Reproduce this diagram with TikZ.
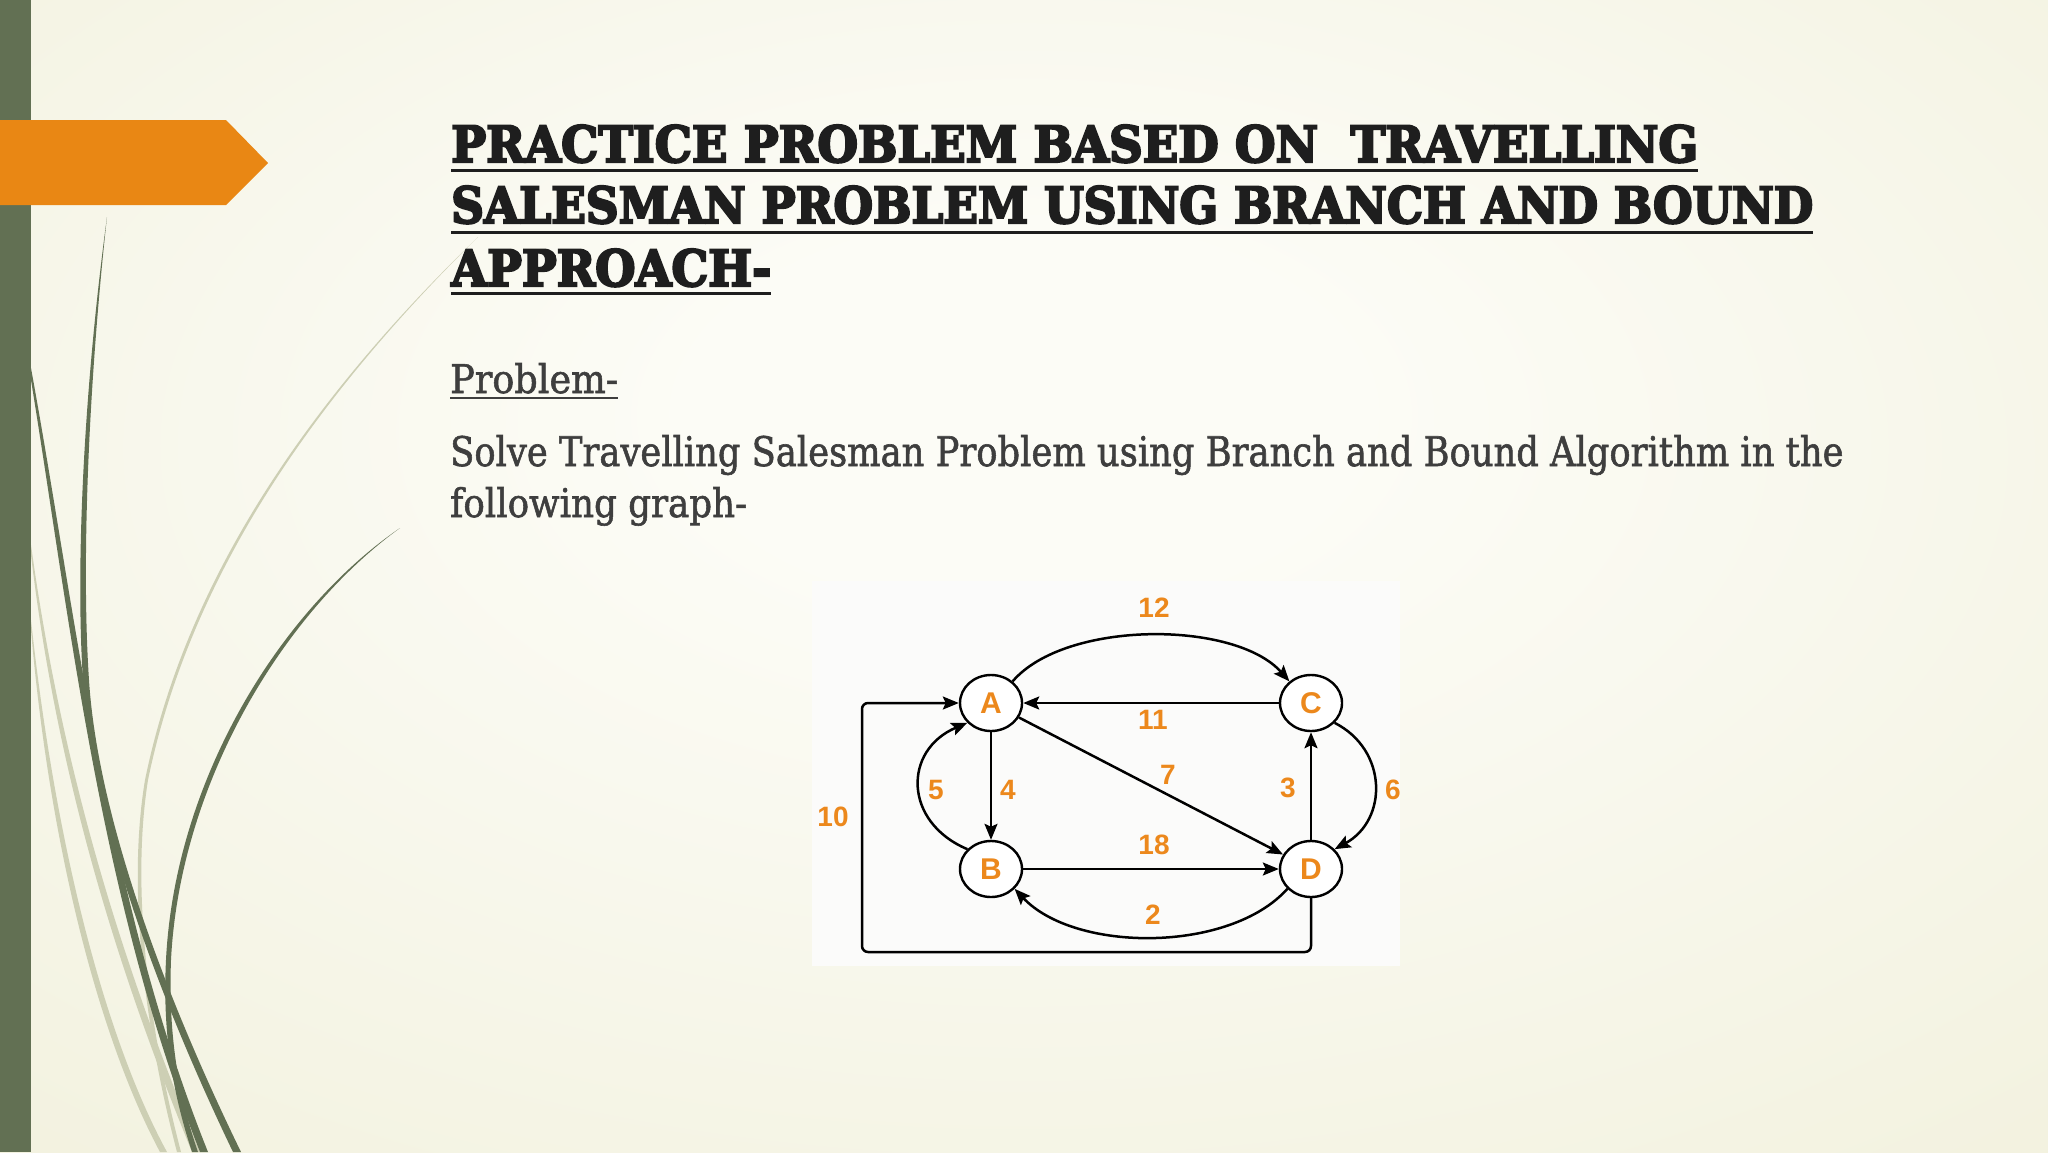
\documentclass[tikz,border=0pt]{standalone}
\usepackage{fontspec}
\usepackage{graphicx}
\usetikzlibrary{shapes.geometric,arrows.meta}
\newfontfamily\titlefont{DejaVu Serif}[BoldFeatures={FakeBold=4.5}]
\newfontfamily\bodyfont{DejaVu Serif}[FakeBold=1.5]
\newfontfamily\graphfont{Liberation Sans}
\definecolor{bgin}{RGB}{252,252,246}
\definecolor{bgmid}{RGB}{242,241,222}
\definecolor{bgout}{RGB}{230,228,198}
\definecolor{bargreen}{RGB}{98,112,83}
\definecolor{palegreen}{RGB}{205,207,180}
\definecolor{slideorange}{RGB}{233,135,20}
\definecolor{nodeorange}{RGB}{236,136,28}
\definecolor{titlecol}{RGB}{30,30,30}
\definecolor{bodycol}{RGB}{62,62,62}
\definecolor{imgbg}{RGB}{251,251,250}
\pgfdeclareradialshading{slidebg}{\pgfpoint{0bp}{8bp}}{color(0bp)=(bgin); color(8bp)=(bgin); color(40bp)=(bgmid); color(72bp)=(bgout)}
\begin{document}
\begin{tikzpicture}[x=1pt,y=-1pt,
  gnode/.style={ellipse, draw=black, line width=2.4pt, fill=white, minimum width=62pt, minimum height=56pt, inner sep=0pt, font=\graphfont\bfseries\fontsize{30}{30}\selectfont, text=nodeorange},
  elabel/.style={font=\graphfont\bfseries\fontsize{28}{28}\selectfont, text=nodeorange, inner sep=0pt},
  gedge/.style={draw=black, line width=2.5pt, -{Stealth[length=16pt,width=13pt,inset=3pt]}},
  titleline/.style={anchor=base west, inner sep=0pt, text=titlecol, font=\titlefont\bfseries},
  bodyline/.style={anchor=base west, inner sep=0pt, text=bodycol, font=\bodyfont},
  darkgrass/.style={fill=bargreen, draw=none},
  palegrass/.style={fill=palegreen, draw=none}]
\useasboundingbox (0,0) rectangle (2048,1152);
% background
\shade[shading=slidebg] (0,0) rectangle (2048,1152);
% grass decorations
\path[palegrass] (478,237) .. controls (330,380) and (190,560) .. (145,780) .. controls (125,900) and (150,1050) .. (177,1152) -- (181,1152) .. controls (154,1050) and (129,900) .. (148,780) .. controls (193,561) and (332,381) .. (478,237) -- cycle;
\path[palegrass] (31,555) .. controls (60,800) and (130,1000) .. (192,1152) -- (200,1152) .. controls (137,1000) and (66,800) .. (31,545) -- cycle;
\path[palegrass] (31,630) .. controls (50,850) and (100,1040) .. (160,1152) -- (167,1152) .. controls (106,1040) and (56,850) .. (31,620) -- cycle;
\path[darkgrass] (107,217) .. controls (85,380) and (75,560) .. (83,680) .. controls (92,820) and (160,1000) .. (233,1152) -- (241,1152) .. controls (167,1000) and (98,820) .. (89,680) .. controls (81,560) and (89,380) .. (107,217) -- cycle;
\path[darkgrass] (31,380) .. controls (70,620) and (100,900) .. (200,1152) -- (208,1152) .. controls (107,900) and (77,620) .. (31,368) -- cycle;
\path[darkgrass] (400,528) .. controls (280,610) and (175,780) .. (166,960) .. controls (162,1040) and (175,1100) .. (192,1152) -- (198,1152) .. controls (180,1100) and (168,1040) .. (171,960) .. controls (180,782) and (284,612) .. (400,528) -- cycle;
% left bar and orange arrow
\fill[bargreen] (0,0) rectangle (31,1152);
\fill[slideorange] (0,120) -- (226,120) -- (268,163) -- (226,205) -- (0,205) -- cycle;
% title
\node[titleline] (t1) at (451,162) {\resizebox{1247pt}{37pt}{PRACTICE PROBLEM BASED ON\ \ TRAVELLING}};
\node[titleline] (t2) at (451,223) {\resizebox{1362pt}{37pt}{SALESMAN PROBLEM USING BRANCH AND BOUND}};
\node[titleline] (t3) at (451,286) {\resizebox{320pt}{37pt}{APPROACH-}};
\draw[titlecol, line width=3pt] (451,170) -- (1698,170);
\draw[titlecol, line width=3pt] (451,232) -- (1813,232);
\draw[titlecol, line width=3pt] (451,293) -- (771,293);
% problem text
\node[bodyline] (p0) at (450,393) {\resizebox{168pt}{30pt}{Problem-}};
\draw[bodycol, line width=2.2pt] (450,398) -- (618,398);
\node[bodyline] (p1) at (450,466) {\resizebox{1393pt}{31pt}{Solve Travelling Salesman Problem using Branch and Bound Algorithm in the}};
\node[bodyline] (p2) at (450,517) {\resizebox{297pt}{30pt}{following graph-}};
% graph image
\fill[imgbg] (812,581) rectangle (1400,966);
\node[gnode] (A) at (991,703) {A};
\node[gnode] (B) at (991,869) {B};
\node[gnode] (C) at (1311,703) {C};
\node[gnode] (D) at (1311,869) {D};
\coordinate (corner) at (862,952);
\draw[gedge] (A.45) .. controls (1065,620) and (1235,620) .. (C.135);
\draw[gedge] (C) -- (A);
\draw[gedge] (A) -- (D);
\draw[gedge] (A) -- (B);
\draw[gedge] (B.140) .. controls (903,822) and (903,750) .. (A.220);
\draw[gedge] (B) -- (D);
\draw[gedge] (D.220) .. controls (1230,953) and (1075,953) .. (B.320);
\draw[gedge] (D) -- (C);
\draw[gedge] (C.320) .. controls (1388,750) and (1388,820) .. (D.40);
\draw[gedge, rounded corners=6pt] (D.south) |- (corner) |- (A.west);
\node[elabel] (l12) at (1154,608) {12};
\node[elabel] (l11) at (1153,720) {11};
\node[elabel] (l7) at (1168,775) {7};
\node[elabel] (l5) at (936,790) {5};
\node[elabel] (l4) at (1008,790) {4};
\node[elabel] (l3) at (1288,788) {3};
\node[elabel] (l6) at (1393,790) {6};
\node[elabel] (l10) at (833,817) {10};
\node[elabel] (l18) at (1154,845) {18};
\node[elabel] (l2) at (1153,915) {2};
\end{tikzpicture}
\end{document}
